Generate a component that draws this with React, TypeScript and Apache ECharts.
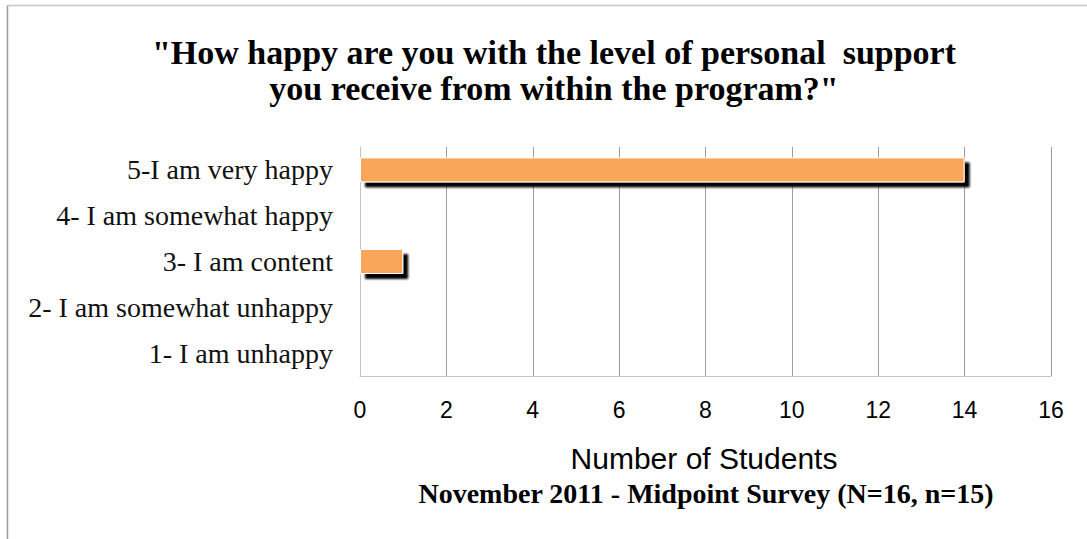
import React, { useEffect, useRef } from "react";
import * as echarts from "echarts";

const categories = [
  "1- I am unhappy",
  "2- I am somewhat unhappy",
  "3- I am content",
  "4- I am somewhat happy",
  "5-I am very happy",
];
const counts = [0, 0, 1, 0, 14];
const titleLines = [
  '"How happy are you with the level of personal  support',
  'you receive from within the program?"',
];
const axisTitle = "Number of Students";
const subtitle = "November 2011 - Midpoint Survey (N=16, n=15)";
const xMin = 0;
const xMax = 16;
const xInterval = 2;

export default function App() {
  const ref = useRef<HTMLDivElement>(null);
  useEffect(() => {
    document.body.style.margin = "0";
    document.body.style.overflow = "hidden";
    const chart = echarts.init(ref.current!, null, { renderer: "svg" });
    chart.setOption({
      animation: false,
      backgroundColor: "#fff",
      grid: { left: 360, right: 36, top: 147, bottom: 163, containLabel: false },
      xAxis: {
        type: "value",
        min: xMin,
        max: xMax,
        interval: xInterval,
        axisLine: { show: true, lineStyle: { color: "#c4c4c4", width: 1 } },
        axisTick: { show: false },
        splitLine: { show: true, lineStyle: { color: "#9e9e9e", width: 1 } },
        axisLabel: {
          margin: 22,
          fontFamily: "Liberation Sans",
          fontSize: 23,
          color: "#000",
        },
      },
      yAxis: {
        type: "category",
        data: categories,
        axisLine: { show: true, lineStyle: { color: "#c4c4c4", width: 1 } },
        axisTick: { show: false },
        splitLine: { show: false },
        axisLabel: {
          margin: 27,
          fontFamily: "Liberation Serif",
          fontSize: 28,
          color: "#111",
        },
      },
      series: [
        {
          type: "bar",
          data: counts,
          barWidth: 25,
          itemStyle: {
            color: "#F9A65A",
            borderColor: "#fff",
            borderWidth: 1,
            shadowColor: "#000",
            shadowOffsetX: 5,
            shadowOffsetY: 5,
            shadowBlur: 2,
          },
        },
      ],
      graphic: [
        {
          type: "line",
          shape: { x1: 7.5, y1: 5.5, x2: 1100, y2: 5.5 },
          style: { stroke: "#c8c8c8", lineWidth: 1.5 },
          silent: true,
        },
        {
          type: "line",
          shape: { x1: 7.5, y1: 5.5, x2: 7.5, y2: 600 },
          style: { stroke: "#999", lineWidth: 1.5 },
          silent: true,
        },
        {
          type: "text",
          x: 554,
          y: 52,
          style: {
            text: titleLines[0],
            fontFamily: "Liberation Serif",
            fontWeight: "bold",
            fontSize: 34,
            fill: "#000",
            textAlign: "center",
            textVerticalAlign: "middle",
          },
        },
        {
          type: "text",
          x: 554,
          y: 88,
          style: {
            text: titleLines[1],
            fontFamily: "Liberation Serif",
            fontWeight: "bold",
            fontSize: 34,
            fill: "#000",
            textAlign: "center",
            textVerticalAlign: "middle",
          },
        },
        {
          type: "text",
          x: 704,
          y: 458,
          style: {
            text: axisTitle,
            fontFamily: "Liberation Sans",
            fontSize: 30,
            fill: "#000",
            textAlign: "center",
            textVerticalAlign: "middle",
          },
        },
        {
          type: "text",
          x: 706,
          y: 493,
          style: {
            text: subtitle,
            fontFamily: "Liberation Serif",
            fontWeight: "bold",
            fontSize: 28,
            fill: "#000",
            textAlign: "center",
            textVerticalAlign: "middle",
          },
        },
      ],
    });
    return () => chart.dispose();
  }, []);
  return <div ref={ref} style={{ width: 1087, height: 539 }} />;
}
